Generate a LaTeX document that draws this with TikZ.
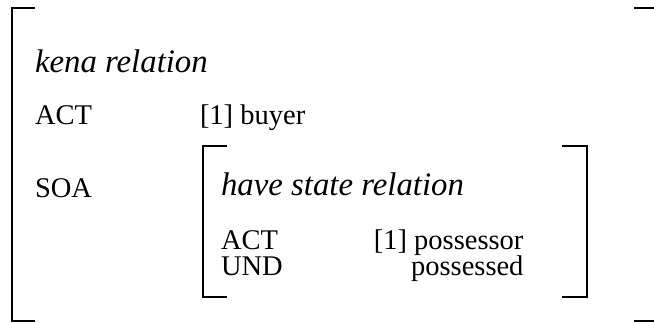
\documentclass[tikz,border=0pt]{standalone}
\usepackage{fontspec}
\setmainfont{Liberation Serif}
\begin{document}
\begin{tikzpicture}[x=1pt,y=-1pt,
  base/.style={inner sep=0pt,outer sep=0pt,text height=18pt,text depth=5pt,font=\fontsize{28.5}{34}\selectfont},
  lbl/.style={base,anchor=base west},
  lblr/.style={base,anchor=base east},
  ital/.style={base,anchor=base west,text height=22pt,font=\fontsize{32.8}{38}\selectfont\itshape},
  brk/.style={line width=2pt,line join=miter}]
\useasboundingbox (0,0) rectangle (654,322);
% outer bracket
\draw[brk] (35,7.5) -- (12,7.5) -- (12,320.5) -- (35,320.5);
\draw[brk] (634,7.5) -- (654,7.5);
\draw[brk] (634,320.5) -- (654,320.5);
% inner bracket
\draw[brk] (227,146) -- (203,146) -- (203,297) -- (227,297);
\draw[brk] (562,146) -- (587,146) -- (587,297) -- (562,297);
% texts
\node[ital] (kena) at (35,72) {kena relation};
\node[lbl] (act1) at (35,124) {ACT};
\node[lbl] (buyer) at (200,124) {[1] buyer};
\node[lbl] (soa) at (35,197) {SOA};
\node[ital] (have) at (221,195) {have state relation};
\node[lbl] (act2) at (221,249.5) {ACT};
\node[lblr] (poss) at (523.5,249.5) {[1] possessor};
\node[lbl] (und) at (221,275.5) {UND};
\node[lblr] (possd) at (523.5,275.5) {possessed};
\end{tikzpicture}
\end{document}
